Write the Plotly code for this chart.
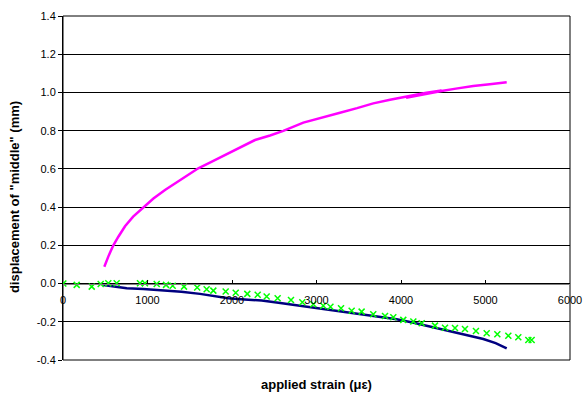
import plotly.graph_objects as go

# applied strain (microstrain) vs displacement (mm) for three measurements
upper_strain = [489, 510, 536, 565, 596, 655, 734, 830, 950, 1070, 1207, 1405,
                1601, 1750, 1878, 2000, 2154, 2272, 2450, 2607, 2844, 3050,
                3278, 3480, 3672, 3870, 4067, 4300, 4480, 4060, 4300, 4480,
                4650, 4855, 5050, 5251]
upper_disp = [0.088, 0.115, 0.141, 0.17, 0.20, 0.245, 0.30, 0.35, 0.40, 0.445,
              0.49, 0.546, 0.603, 0.635, 0.664, 0.69, 0.725, 0.751, 0.775,
              0.799, 0.842, 0.868, 0.894, 0.918, 0.943, 0.962, 0.980, 0.998,
              1.010, 0.972, 0.992, 1.008, 1.020, 1.034, 1.043, 1.053]

lower_strain = [477, 560, 620, 754, 950, 1148, 1400, 1621, 1800, 1956, 2150,
                2351, 2550, 2746, 2950, 3140, 3350, 3554, 3750, 3949, 4150,
                4343, 4500, 4659, 4820, 4974, 5120, 5251]
lower_disp = [-0.007, -0.012, -0.016, -0.025, -0.028, -0.033, -0.043, -0.054,
              -0.065, -0.077, -0.083, -0.089, -0.100, -0.112, -0.124, -0.135,
              -0.148, -0.161, -0.173, -0.187, -0.205, -0.225, -0.240, -0.257,
              -0.272, -0.290, -0.312, -0.339]

model_strain = [4, 162, 340, 446, 536, 635, 911, 970, 1109, 1219, 1298, 1432,
                1588, 1700, 1779, 1925, 2044, 2181, 2304, 2410, 2540, 2698,
                2832, 2962, 3080, 3165, 3290, 3416, 3534, 3672, 3811, 3909,
                4027, 4146, 4245, 4402, 4521, 4639, 4757, 4887, 5014, 5140,
                5270, 5388, 5507, 5546]
model_disp = [0.0, -0.007, -0.016, -0.002, 0.002, 0.002, 0.002, 0.002, -0.002,
              -0.007, -0.011, -0.016, -0.021, -0.030, -0.037, -0.042, -0.048,
              -0.054, -0.059, -0.068, -0.077, -0.086, -0.098, -0.108, -0.116,
              -0.121, -0.129, -0.142, -0.147, -0.161, -0.170, -0.176, -0.190,
              -0.199, -0.208, -0.220, -0.231, -0.233, -0.238, -0.248, -0.260,
              -0.265, -0.273, -0.281, -0.295, -0.295]

y_ticks = [-0.4, -0.2, 0.0, 0.2, 0.4, 0.6, 0.8, 1.0, 1.2, 1.4]
y_tick_labels = ["-0.4", "-0.2", "0.0", "0.2", "0.4", "0.6", "0.8", "1.0",
                 "1.2", "1.4"]
x_ticks = [0, 1000, 2000, 3000, 4000, 5000, 6000]

Y_MIN, Y_MAX = -0.4, 1.4
FONT = "Liberation Sans, Arial, sans-serif"

fig = go.Figure()
fig.add_trace(go.Scatter(x=upper_strain, y=upper_disp, mode="lines",
                         line=dict(color="#FF00FF", width=2.5)))
fig.add_trace(go.Scatter(x=lower_strain, y=lower_disp, mode="lines",
                         line=dict(color="#000080", width=2.5)))
fig.add_trace(go.Scatter(x=model_strain, y=model_disp, mode="markers",
                         marker=dict(symbol="x-thin", size=6,
                                     line=dict(color="#00FF00", width=1.5))))

fig.update_layout(
    width=585, height=397,
    margin=dict(l=63, r=15, t=16, b=37),
    paper_bgcolor="white", plot_bgcolor="white",
    showlegend=False,
    font=dict(family=FONT, size=11, color="black"),
    xaxis=dict(range=[0, 6000], tickvals=x_ticks, showgrid=False,
               zeroline=False, anchor="free", automargin=False,
               position=(0 - Y_MIN) / (Y_MAX - Y_MIN),
               showline=True, linecolor="#808080", linewidth=1,
               ticks="inside", ticklen=4, tickcolor="#000000",
               ticklabelstandoff=6, tickfont=dict(size=11)),
    yaxis=dict(range=[Y_MIN, Y_MAX], tickvals=y_ticks, ticktext=y_tick_labels,
               showgrid=True, gridcolor="#000000", gridwidth=1,
               zeroline=False, showline=True, linecolor="#000000",
               automargin=False,
               ticks="outside", ticklen=4, tickcolor="#000000",
               tickfont=dict(size=11)),
    shapes=[dict(type="rect", xref="paper", yref="paper", x0=0, x1=1, y0=0,
                 y1=1, line=dict(color="#000000", width=1), layer="below")],
    annotations=[
        dict(text="<b>applied strain (με)</b>", xref="paper", yref="paper",
             x=0.5, y=-0.045, yanchor="top", showarrow=False,
             font=dict(size=13)),
        dict(text="<b>displacement of \"middle\" (mm)</b>", xref="paper",
             yref="paper", x=-0.0957, xanchor="center", y=0.475,
             textangle=-90, showarrow=False, font=dict(size=13)),
    ],
)

fig.write_html("out.html")
